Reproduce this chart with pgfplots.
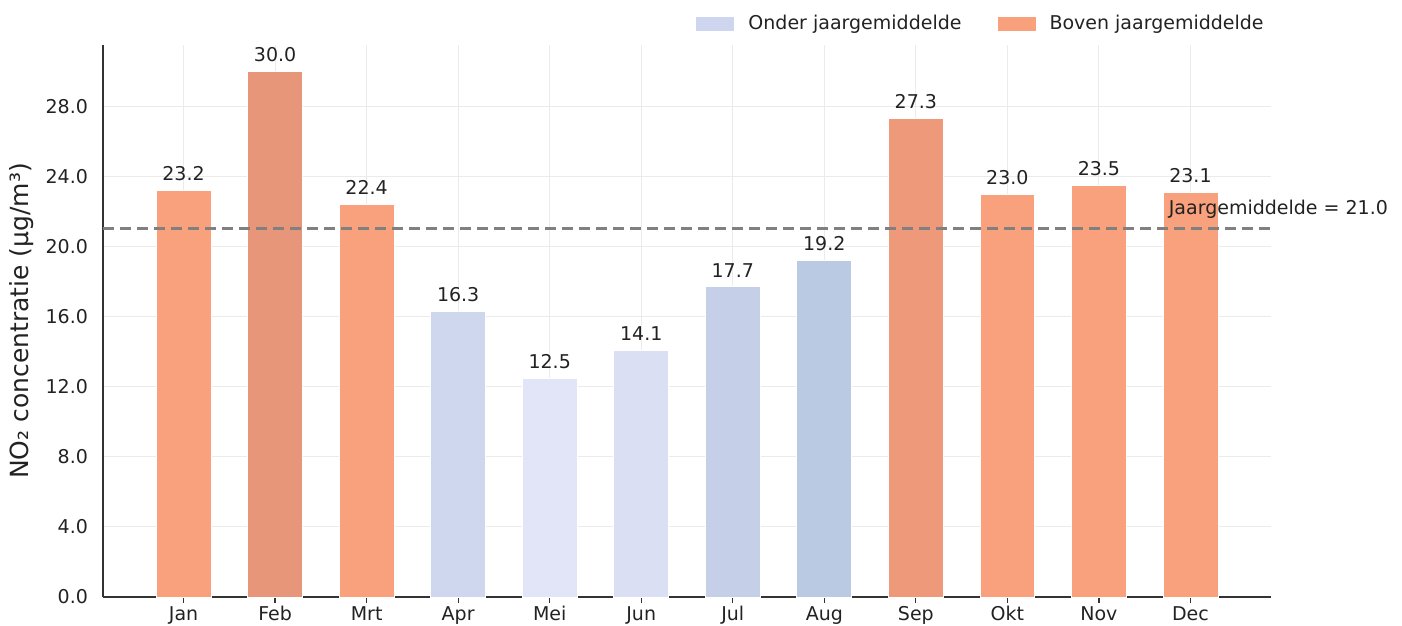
\documentclass[border=0pt]{standalone}
\usepackage{pgfplots}
\pgfplotsset{compat=1.18}
\usepackage{fontspec}
\setmainfont{DejaVu Sans}
\definecolor{salmon}{HTML}{F9A07C}
\definecolor{febc}{HTML}{E8967A}
\definecolor{sepc}{HTML}{EE997A}
\definecolor{aprc}{HTML}{CFD7EE}
\definecolor{meic}{HTML}{E2E4F7}
\definecolor{junc}{HTML}{DADFF3}
\definecolor{julc}{HTML}{C5D0E8}
\definecolor{augc}{HTML}{BBCAE3}
\definecolor{onderc}{HTML}{CDD6EE}
\definecolor{gridc}{HTML}{EBEBEB}
\definecolor{axc}{HTML}{333333}
\definecolor{txt}{HTML}{222222}
\begin{document}
\begin{tikzpicture}
\begin{axis}[
  name=ax,
  scale only axis,
  width=584pt, height=276pt,
  xmin=-0.88, xmax=11.88,
  ymin=0, ymax=31.5,
  clip=false,
  axis x line*=bottom, axis y line*=left,
  axis line style={axc, line width=0.7pt},
  xtick={0,...,11},
  xticklabels={Jan,Feb,Mrt,Apr,Mei,Jun,Jul,Aug,Sep,Okt,Nov,Dec},
  xticklabel style={yshift=1.8pt},
  ytick={0,4,...,28},
  yticklabel style={/tikz/xshift=-1pt, /pgf/number format/.cd, fixed, fixed zerofill, precision=1, assume math mode=true},
  tick label style={font=\fontsize{9.5}{11}\selectfont, text=txt},
  tick align=outside,
  xtick style={draw=axc, line width=0.6pt},
  ytick style={draw=none},
  major tick length=3pt,
  grid=major,
  major grid style={gridc, line width=0.5pt},
  ylabel={NO₂ concentratie (µg/m³)},
  every axis y label/.style={at={(axis description cs:-0.0693,0.5)}, rotate=90, anchor=center, font=\fontsize{12.5}{14}\selectfont, text=txt},
  ybar, bar width=0.6, bar shift=0,
  every axis plot/.append style={draw=white, line width=0.4pt},
  nodes near coords={\pgfmathprintnumber[fixed,fixed zerofill,precision=1,assume math mode=true]{\pgfplotspointmeta}},
  every node near coord/.append style={font=\fontsize{9.5}{11}\selectfont, text=txt, yshift=1.2pt},
  legend style={draw=none, fill=none, at={(1,1)}, anchor=east, xshift=1.5pt, yshift=10.5pt,
    font=\fontsize{9.5}{11}\selectfont, text=txt,
    /tikz/every odd column/.append style={column sep=5pt},
    /tikz/every even column/.append style={column sep=16pt}},
  legend columns=2,
  legend image code/.code={\fill[#1] (0pt,-3.5pt) rectangle (19pt,3.5pt);},
]
\addlegendimage{fill=onderc, draw=none}
\addlegendentry{Onder jaargemiddelde}
\addlegendimage{fill=salmon, draw=none}
\addlegendentry{Boven jaargemiddelde}
\addplot[fill=salmon] coordinates {(0,23.2)};
\addplot[fill=febc] coordinates {(1,30.0)};
\addplot[fill=salmon] coordinates {(2,22.4)};
\addplot[fill=aprc] coordinates {(3,16.3)};
\addplot[fill=meic] coordinates {(4,12.5)};
\addplot[fill=junc] coordinates {(5,14.1)};
\addplot[fill=julc] coordinates {(6,17.7)};
\addplot[fill=augc] coordinates {(7,19.2)};
\addplot[fill=sepc] coordinates {(8,27.3)};
\addplot[fill=salmon] coordinates {(9,23.0)};
\addplot[fill=salmon] coordinates {(10,23.5)};
\addplot[fill=salmon] coordinates {(11,23.1)};
\draw[color=gray, line width=1.5pt, dash pattern=on 5.5pt off 3pt] (axis cs:-0.88,21) -- (axis cs:11.88,21);
\node[anchor=west, inner sep=0pt, font=\fontsize{9.5}{11}\selectfont, text=txt] at (axis cs:10.76,22.1) {Jaargemiddelde = 21.0};
\end{axis}
\pgfresetboundingbox
\path ([shift={(-51.5pt,-14.5pt)}]ax.south west) rectangle ([shift={(65.5pt,22.5pt)}]ax.north east);
\end{tikzpicture}
\end{document}
